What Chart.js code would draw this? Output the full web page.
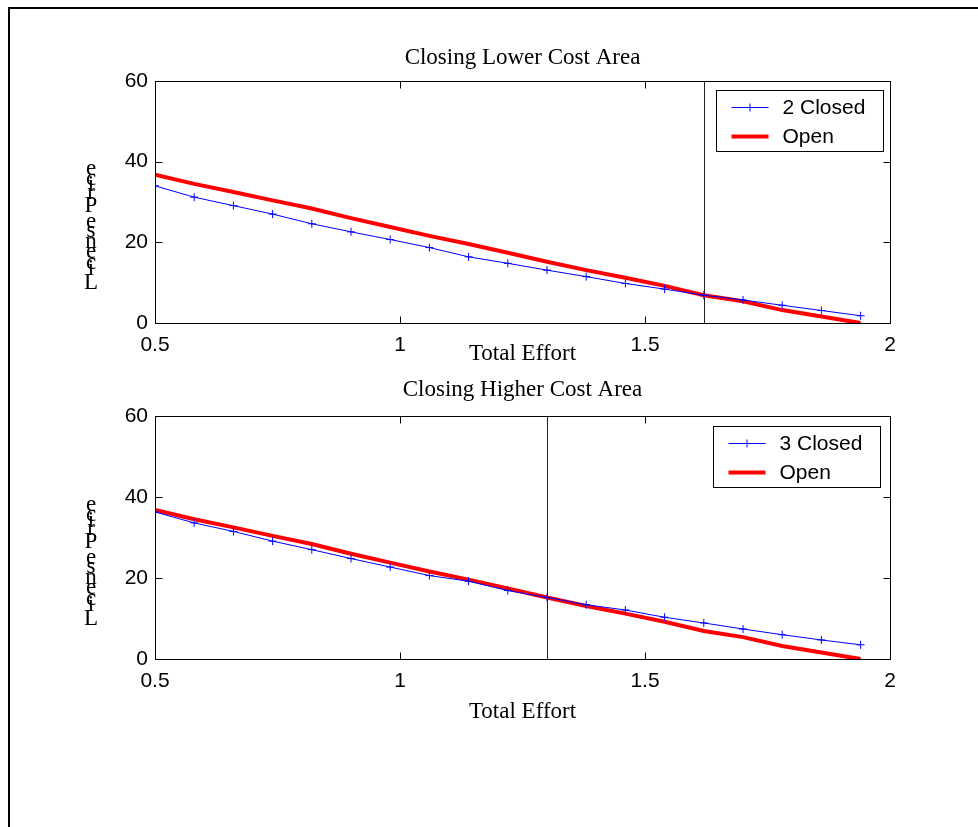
<!DOCTYPE html>
<html>
<head>
<meta charset="utf-8">
<script src="https://cdn.jsdelivr.net/npm/chart.js@4.4.0/dist/chart.umd.min.js"></script>
<style>
    html, body { margin: 0; padding: 0; background: #fff; }
    body { width: 978px; height: 827px; position: relative; overflow: hidden; }
    #frame { position: absolute; left: 8px; top: 7px; width: 1000px; height: 900px; border-left: 2px solid #000; border-top: 2px solid #000; }
    canvas { position: absolute; left: 0; }
    #chartTop { top: 0; }
    #chartBottom { top: 360px; }
</style>
</head>
<body>
<div id="frame"></div>
<canvas id="chartTop" width="978" height="380"></canvas>
<canvas id="chartBottom" width="978" height="467"></canvas>
<script>
// Total effort (x) shared by both panels
var totalEffort = [0.5, 0.58, 0.66, 0.74, 0.82, 0.90, 0.98, 1.06, 1.14, 1.22, 1.30, 1.38, 1.46, 1.54, 1.62, 1.70, 1.78, 1.86, 1.94];
// license price, lower cost area closed
var closed2 = [34.0, 31.2, 29.1, 27.0, 24.6, 22.6, 20.7, 18.7, 16.4, 14.8, 13.1, 11.5, 9.8, 8.4, 6.9, 5.7, 4.4, 3.1, 1.8];
// license price, higher cost area closed
var closed3 = [36.3, 33.6, 31.5, 29.1, 27.0, 24.8, 22.7, 20.6, 19.2, 16.9, 15.2, 13.4, 12.1, 10.3, 8.9, 7.4, 6.0, 4.7, 3.5];
// license price, both open
var openPrice = [36.8, 34.5, 32.5, 30.4, 28.4, 26.0, 23.8, 21.6, 19.6, 17.4, 15.2, 13.1, 11.2, 9.2, 6.9, 5.4, 3.2, 1.6, 0];
var cutoffLower = 1.62;
var cutoffHigher = 1.30;
var xTicks = [0.5, 1, 1.5, 2];
var yTicks = [0, 20, 40, 60];

var SANS = '"Liberation Sans", Arial, sans-serif';
var SERIF = '"Liberation Serif", "Times New Roman", serif';

var axesBox = {
    id: 'axesBox',
    beforeDatasetsDraw: function (chart, args, opts) {
        var ctx = chart.ctx, a = chart.chartArea;
        var cx = Math.round(chart.scales.x.getPixelForValue(opts.cutoff)) + 0.5;
        ctx.save();
        ctx.strokeStyle = '#222';
        ctx.lineWidth = 1;
        ctx.beginPath();
        ctx.moveTo(cx, a.top);
        ctx.lineTo(cx, a.bottom);
        ctx.stroke();
        ctx.restore();
    },
    afterDatasetsDraw: function (chart, args, opts) {
        var ctx = chart.ctx, a = chart.chartArea;
        var xs = chart.scales.x, ys = chart.scales.y;
        var tickLen = 7;
        var l = Math.round(a.left) + 0.5, r = Math.round(a.right) + 0.5;
        var t = Math.round(a.top) + 0.5, b = Math.round(a.bottom) + 0.5;
        ctx.save();
        ctx.strokeStyle = '#000';
        ctx.lineWidth = 1;
        ctx.strokeRect(l, t, r - l, b - t);
        ctx.beginPath();
        xs.ticks.forEach(function (tk) {
            var px = Math.round(xs.getPixelForValue(tk.value)) + 0.5;
            ctx.moveTo(px, b); ctx.lineTo(px, b - tickLen);
            ctx.moveTo(px, t); ctx.lineTo(px, t + tickLen);
        });
        ys.ticks.forEach(function (tk) {
            var py = Math.round(ys.getPixelForValue(tk.value)) + 0.5;
            ctx.moveTo(l, py); ctx.lineTo(l + tickLen, py);
            ctx.moveTo(r, py); ctx.lineTo(r - tickLen, py);
        });
        ctx.stroke();

        // legend box
        var bw = 167, bh = 61;
        var bx = Math.round(a.right - opts.legendRight - bw) + 0.5, by = Math.round(a.top + opts.legendTop) + 0.5;
        ctx.fillStyle = '#fff';
        ctx.fillRect(bx, by, bw, bh);
        ctx.strokeStyle = '#000';
        ctx.strokeRect(bx, by, bw, bh);
        ctx.font = '21px ' + SANS;
        ctx.textAlign = 'left';
        ctx.textBaseline = 'middle';
        chart.data.datasets.forEach(function (ds, i) {
            var ry = by + 17 + i * 29;
            ctx.strokeStyle = ds.borderColor;
            ctx.lineWidth = ds.borderWidth;
            ctx.beginPath();
            ctx.moveTo(bx + 15, ry);
            ctx.lineTo(bx + 52, ry);
            ctx.stroke();
            if (ds.pointRadius) {
                ctx.lineWidth = 1;
                ctx.beginPath();
                ctx.moveTo(bx + 33.5, ry - 4); ctx.lineTo(bx + 33.5, ry + 4);
                ctx.moveTo(bx + 29.5, ry); ctx.lineTo(bx + 37.5, ry);
                ctx.stroke();
            }
            ctx.fillStyle = '#000';
            ctx.fillText(ds.label, bx + 66, ry + 1);
        });

        // subplot title
        ctx.font = '23px ' + SERIF;
        ctx.fillStyle = '#000';
        ctx.textAlign = 'center';
        ctx.textBaseline = 'alphabetic';
        ctx.fillText(opts.title, (a.left + a.right) / 2, a.top - opts.titleGap);

        // y label, letters stacked upright
        var y = a.bottom - 34;
        var chars = opts.ylabel.split('');
        chars.forEach(function (ch) {
            if (ch !== ' ') {
                ctx.fillText(ch, a.left - 64, y);
            }
            y -= ctx.measureText(ch).width;
        });
        ctx.restore();
    }
};

var figure = {
    init: function () {
        figure.createChart('chartTop', '2 Closed', closed2, {
            cutoff: cutoffLower, title: 'Closing Lower Cost Area', titleGap: 17,
            legendRight: 7, legendTop: 9
        }, {padTop: 81, padBottom: 12, xHeight: 45, xTitlePad: 0});
        figure.createChart('chartBottom', '3 Closed', closed3, {
            cutoff: cutoffHigher, title: 'Closing Higher Cost Area', titleGap: 20,
            legendRight: 10, legendTop: 10
        }, {padTop: 56, padBottom: 98, xHeight: 70, xTitlePad: 3});
    },
    createChart: function (id, closedLabel, closedData, boxOpts, lay) {
        boxOpts.ylabel = 'License Price';
        var ctx = document.getElementById(id).getContext('2d');
        new Chart(ctx, {
            type: 'line',
            data: {
                labels: totalEffort,
                datasets: [
                    {
                        label: closedLabel,
                        data: closedData,
                        borderColor: '#0000ff',
                        borderWidth: 1,
                        pointStyle: 'cross',
                        pointRadius: 4,
                        pointBorderWidth: 1,
                        pointBorderColor: '#0000ff',
                        pointHoverRadius: 4,
                        tension: 0
                    }, {
                        label: 'Open',
                        data: openPrice,
                        borderColor: '#ff0000',
                        borderWidth: 4,
                        pointRadius: 0,
                        tension: 0
                    }
                ]
            },
            options: {
                responsive: false,
                animation: false,
                events: [],
                layout: {padding: {left: 95, right: 88, top: lay.padTop, bottom: lay.padBottom}},
                plugins: {
                    legend: {display: false},
                    tooltip: {enabled: false},
                    axesBox: boxOpts
                },
                scales: {
                    x: {
                        type: 'linear',
                        min: 0.5,
                        max: 2,
                        afterBuildTicks: function (s) {
                            s.ticks = xTicks.map(function (v) { return {value: v}; });
                        },
                        afterFit: function (s) { s.height = lay.xHeight; },
                        grid: {display: false, drawTicks: false},
                        border: {display: false},
                        ticks: {
                            color: '#000', padding: 10, maxRotation: 0, autoSkip: false,
                            font: {family: SANS, size: 21},
                            callback: function (v) { return String(v); }
                        },
                        title: {
                            display: true, text: 'Total Effort', color: '#000',
                            font: {family: SERIF, size: 23},
                            padding: {top: 0, bottom: lay.xTitlePad}
                        }
                    },
                    y: {
                        min: 0,
                        max: 60,
                        afterBuildTicks: function (s) {
                            s.ticks = yTicks.map(function (v) { return {value: v}; });
                        },
                        afterFit: function (s) { s.width = 60; },
                        grid: {display: false, drawTicks: false},
                        border: {display: false},
                        ticks: {
                            color: '#000', padding: 7,
                            font: {family: SANS, size: 21},
                            callback: function (v) { return String(v); }
                        }
                    }
                }
            },
            plugins: [axesBox]
        });
    }
};
figure.init();
</script>
</body>
</html>
